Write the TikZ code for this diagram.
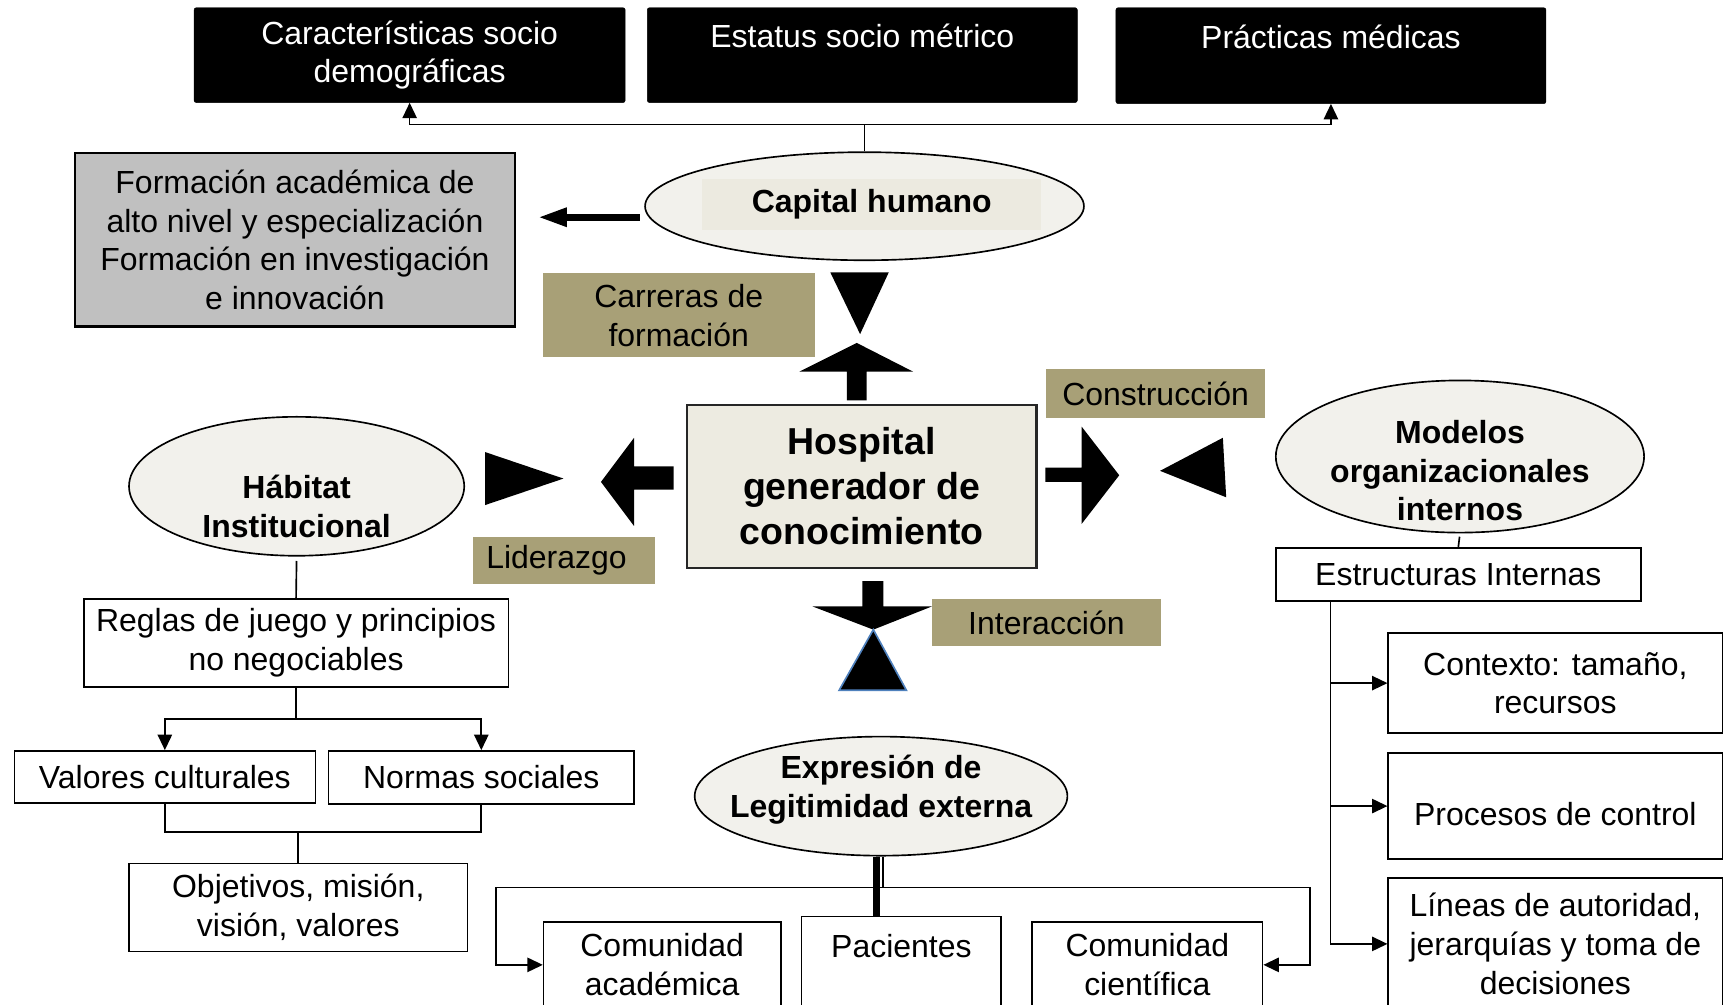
\documentclass[tikz,border=0pt]{standalone}
\usepackage{fontspec}
\setmainfont{Liberation Sans}
\usetikzlibrary{positioning,arrows.meta,shapes.geometric,calc}
\definecolor{tanfill}{HTML}{A8A077}
\definecolor{ovalfill}{HTML}{F2F1EC}
\definecolor{hlfill}{HTML}{ECEAE0}
\definecolor{hospfill}{HTML}{EDEBE1}
\definecolor{grayfill}{HTML}{C0C0C0}
\definecolor{tipblue}{HTML}{4F81BD}
\tikzstyle{blackbox} = [rectangle, rounded corners=2pt, draw=black, fill=black, text=white, align=center, inner sep=2pt]
\tikzstyle{graybox} = [rectangle, draw=black, line width=2pt, fill=grayfill, align=center, inner sep=2pt]
\tikzstyle{oval} = [ellipse, draw=black, line width=1.5pt, fill=ovalfill, inner sep=0pt]
\tikzstyle{ovaltext} = [align=center, inner sep=0pt, font=\fontsize{29}{35}\selectfont\bfseries]
\tikzstyle{tanbox} = [rectangle, fill=tanfill, align=center, inner sep=2pt]
\tikzstyle{hospbox} = [rectangle, draw=black!85, line width=2pt, fill=hospfill, align=center, font=\fontsize{34}{41}\selectfont\bfseries]
\tikzstyle{plainbox} = [rectangle, draw=black, line width=1.5pt, fill=white, align=center, inner sep=2pt]
\tikzstyle{line} = [line width=1.5pt]
\tikzstyle{arrow} = [line width=1.5pt, -{Triangle[length=14pt,width=13pt]}]
\tikzstyle{fatarrow} = [line width=6pt, -{Triangle[length=26pt,width=16pt]}]

\begin{document}
\begin{tikzpicture}[x=1pt, y=-1pt, every node/.append style={font=\fontsize{29}{35}\selectfont}]
\useasboundingbox (0,0) rectangle (1568,911);
% top row
\node (carac) [blackbox, minimum width=391pt, minimum height=86pt] at (371.5,50) {Características socio\\demográficas};
\node (estatus) [blackbox, minimum width=390pt, minimum height=86pt] at (782,50) {Estatus socio métrico\\\mbox{}};
\node (practicas) [blackbox, minimum width=390pt, minimum height=87pt] at (1207,50.5) {Prácticas médicas\\\mbox{}};
\node (formacion) [graybox, minimum width=399pt, minimum height=157pt] at (267.5,217.5) {Formación académica de\\alto nivel y especialización\\Formación en investigación\\e innovación};
\node (caphum) [oval, minimum width=398pt, minimum height=98pt] at (784,187) {};
\node (caphumtxt) [fill=hlfill, minimum width=307pt, minimum height=47pt, font=\fontsize{29}{35}\selectfont\bfseries] at (790.5,185.5) {Capital humano};
\coordinate (topbus) at (784,113);
\draw [arrow] (caphum.north) -- (topbus) -| (carac.south);
\draw [arrow] (topbus) -| (practicas.south);
\coordinate (capw) at ([yshift=-10pt]caphum.west);
\draw [fatarrow, shorten <=4pt, shorten >=20pt] (capw) -- (capw -| formacion.east);

% centre
\node (hosp) [hospbox, minimum width=317pt, minimum height=148pt] at (781.5,441) {Hospital\\generador de\\conocimiento};
\node (carreras) [tanbox, minimum width=247pt, minimum height=76pt] at (615.5,286) {Carreras de\\formación};
\node (construccion) [tanbox, minimum width=198pt, minimum height=44pt] at (1048,357) {Construcción};
\node (liderazgo) [tanbox, text width=141pt, align=left, inner xsep=12pt, minimum height=43pt] at (511.5,508.5) {Liderazgo};
\node (interaccion) [tanbox, minimum width=208pt, minimum height=43pt] at (949,564.5) {Interacción};
\fill (753,247) -- (806,247) -- (780,303) -- cycle;
\fill (768,363) -- (768,337) -- (725,337) -- (777,311) -- (828,337) -- (786,337) -- (786,363) -- cycle;
\fill (611,423) -- (575,423) -- (575,397) -- (545,437) -- (575,477) -- (575,444) -- (611,444) -- cycle;
\fill (440,410) -- (440,458) -- (511,434) -- cycle;
\fill (948,424) -- (981,424) -- (981,387) -- (1015,431) -- (981,475) -- (981,437) -- (948,437) -- cycle;
\fill (1052,427) -- (1109,397) -- (1112,451) -- cycle;
\fill (782,527) -- (801,527) -- (801,550) -- (845,550) -- (792,571) -- (737,550) -- (782,550) -- cycle;
\filldraw [draw=tipblue, line width=1.5pt] (792,571) -- (822,626) -- (761,626) -- cycle;

% left
\node (habitat) [oval, minimum width=304pt, minimum height=126pt, label={[ovaltext, yshift=-18pt]center:{Hábitat\\Institucional}}] at (269,441) {};
\node (reglas) [plainbox, minimum width=385pt, minimum height=80pt] at (268.5,583) {Reglas de juego y principios\\no negociables};
\node (valores) [plainbox, minimum width=273pt, minimum height=47pt] at (149.5,704.5) {Valores culturales};
\node (normas) [plainbox, minimum width=277pt, minimum height=48pt] at (436.5,705) {Normas sociales};
\node (objetivos) [plainbox, minimum width=307pt, minimum height=80pt] at (270.5,823) {Objetivos, misión,\\visión, valores};
\draw [line, shorten <=4pt] (habitat.south) -- (reglas.north);
\draw [arrow] (reglas.south) -- ++(0,28) -| (valores.north);
\draw [arrow] (reglas.south) -- ++(0,28) -| (normas.north);
\draw [line] (valores.south) -- ++(0,26) -| (normas.south);
\draw [line] (objetivos.north) -- ++(0,-29);

% bottom
\node (expresion) [oval, minimum width=338pt, minimum height=108pt, label={[ovaltext, yshift=6pt]center:{Expresión de\\Legitimidad externa}}] at (799,722) {};
\node (comacad) [plainbox, minimum width=215pt, minimum height=78pt] at (600.5,875) {Comunidad\\académica};
\node (pacientes) [plainbox, minimum width=181pt, minimum height=88pt] at (817.5,875) {Pacientes\\\mbox{}};
\node (comcien) [plainbox, minimum width=209pt, minimum height=78pt] at (1040.5,875) {Comunidad\\científica};
\draw [line width=6pt] ([xshift=-4pt]expresion.south) -- ([xshift=-4pt]expresion.south |- pacientes.north);
\draw [line] ([xshift=2pt]expresion.south) -- ++(0,28) coordinate (ebus);
\draw [arrow] (ebus) -- ++(-351,0) |- (comacad.west);
\draw [arrow] (ebus) -- ++(387,0) |- (comcien.east);

% right
\node (modelos) [oval, minimum width=334pt, minimum height=138pt, label={[ovaltext, yshift=-13pt]center:{Modelos\\organizacionales\\internos}}] at (1324,414) {};
\node (estruct) [plainbox, minimum width=331pt, minimum height=48pt] at (1322.5,521) {Estructuras Internas};
\node (contexto) [plainbox, minimum width=303pt, minimum height=91pt] at (1410.5,619.5) {Contexto: tamaño,\\recursos};
\node (procesos) [plainbox, minimum width=303pt, minimum height=96pt] at (1410.5,731) {\mbox{}\\Procesos de control};
\node (lineas) [plainbox, minimum width=303pt, minimum height=120pt] at (1410.5,856) {Líneas de autoridad,\\jerarquías y toma de\\decisiones};
\draw [line, shorten <=3pt] (modelos.south) -- (estruct.north);
\coordinate (ebranch) at ([xshift=-116pt]estruct.south);
\draw [arrow] (ebranch) |- (contexto.west);
\draw [arrow] (ebranch) |- (procesos.west);
\draw [arrow] (ebranch) |- (lineas.west);
\end{tikzpicture}
\end{document}
